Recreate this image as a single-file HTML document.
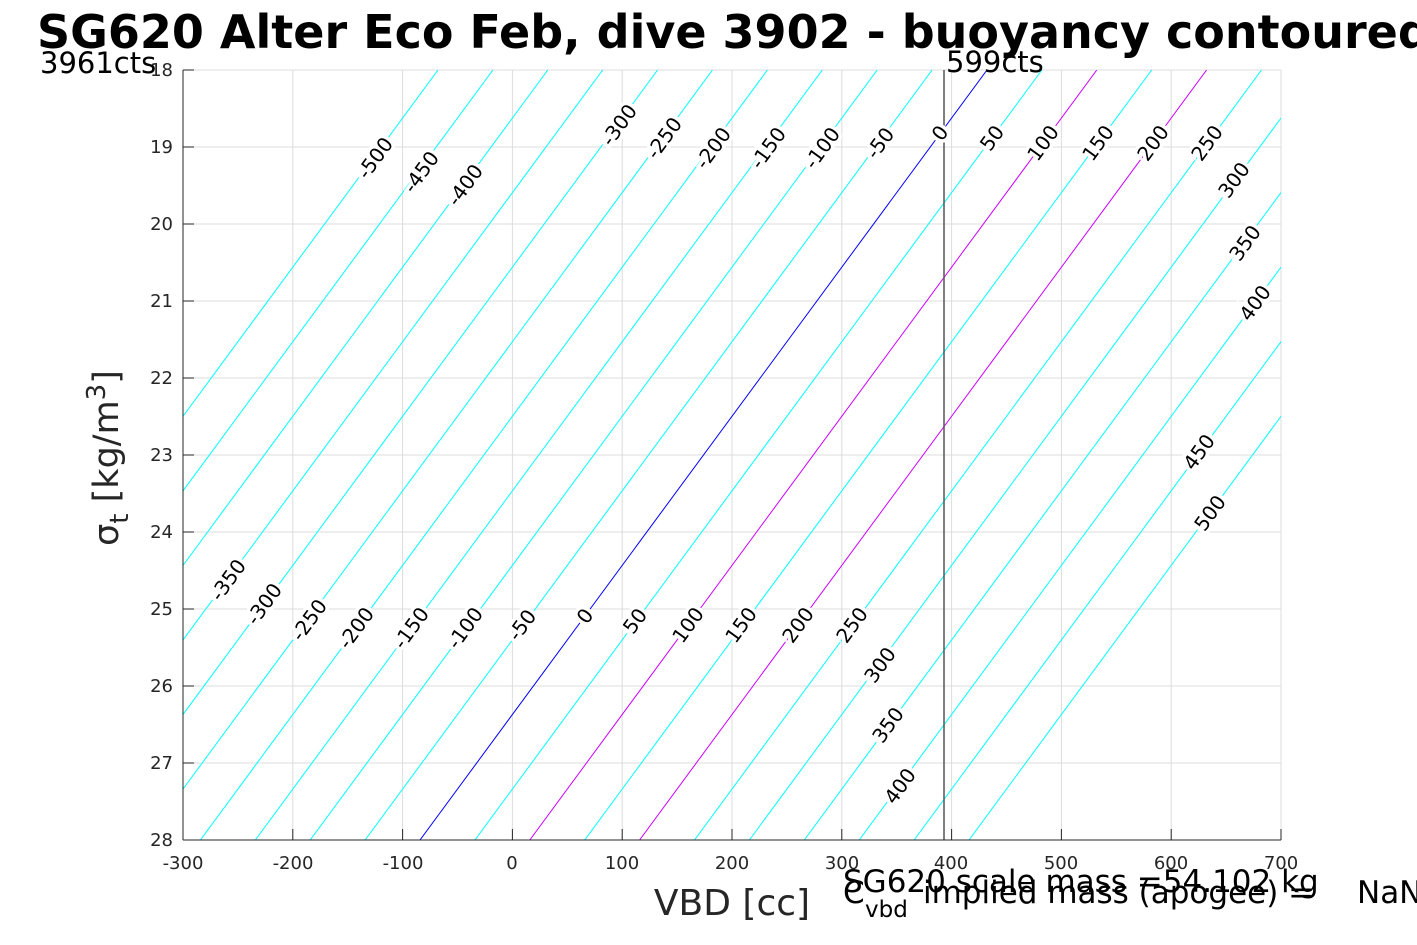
<!DOCTYPE html>
<html><head><meta charset="utf-8"><style>
body{margin:0;background:#fff;}
svg{display:block;font-family:"DejaVu Sans","Liberation Sans",sans-serif;}
.cl{font-size:20px;fill:#000;stroke:#fff;stroke-width:7px;paint-order:stroke;text-anchor:middle;dominant-baseline:central;}
.tk{font-size:18px;fill:#262626;}
</style></head><body>
<svg id="s" width="1417" height="945" viewBox="0 0 1417 945" xmlns="http://www.w3.org/2000/svg">
<defs><clipPath id="cp"><rect x="183" y="70" width="1098" height="770"/></clipPath></defs>
<g id="grid" stroke="#dcdcdc" stroke-width="1"></g>
<g id="lines" clip-path="url(#cp)" fill="none" stroke-width="1"></g>
<line x1="944" y1="70" x2="944" y2="840" stroke="#555" stroke-width="1.5"/>
<g id="labs"></g>
<line x1="183" y1="70" x2="183" y2="840" stroke="#262626"/>
<line x1="183" y1="840" x2="1281" y2="840" stroke="#262626"/>
<g id="ticks" stroke="#262626"></g>
<g class="tk" text-anchor="middle">
<text x="183" y="869">-300</text><text x="293" y="869">-200</text><text x="403" y="869">-100</text>
<text x="512" y="869">0</text><text x="622" y="869">100</text><text x="732" y="869">200</text>
<text x="842" y="869">300</text><text x="951" y="869">400</text><text x="1061" y="869">500</text>
<text x="1171" y="869">600</text><text x="1281" y="869">700</text>
</g>
<g class="tk" text-anchor="end">
<text x="173" y="76">18</text><text x="173" y="153">19</text><text x="173" y="230">20</text>
<text x="173" y="307">21</text><text x="173" y="384">22</text><text x="173" y="461">23</text>
<text x="173" y="538">24</text><text x="173" y="615">25</text><text x="173" y="692">26</text>
<text x="173" y="769">27</text><text x="173" y="846">28</text>
</g>
<text x="732" y="915" font-size="36" fill="#262626" text-anchor="middle">VBD [cc]</text>
<text transform="translate(118,458) rotate(-90)" font-size="35" fill="#262626" text-anchor="middle">σ<tspan font-size="26" dy="10">t</tspan><tspan dy="-10"> [kg/m</tspan><tspan font-size="26" dy="-13">3</tspan><tspan dy="13">]</tspan></text>
<text x="37" y="48" font-size="46" font-weight="bold" fill="#000">SG620 Alter Eco Feb, dive 3902 - buoyancy contoured</text>
<text x="40" y="73" font-size="29" fill="#000">3961cts</text>
<text x="946" y="72" font-size="29" fill="#000">599cts</text>
<text x="843" y="892" font-size="31" fill="#000">SG620 scale mass =54.102 kg</text>
<text x="843" y="903" font-size="31" fill="#000">C</text>
<text x="865" y="917" font-size="23" fill="#000">vbd</text>
<text x="923" y="903" font-size="31" fill="#000">implied mass (apogee) =</text>
<text x="1357" y="903" font-size="31" fill="#000">NaN</text>
</svg>
<script>
var NS="http://www.w3.org/2000/svg";
function el(p,t,a){var e=document.createElementNS(NS,t);for(var k in a)e.setAttribute(k,a[k]);document.getElementById(p).appendChild(e);return e;}
for(var i=0;i<=10;i++){var x=183+i*109.8;el("grid","line",{x1:x,y1:70,x2:x,y2:840});el("ticks","line",{x1:x,y1:840,x2:x,y2:829});
var y=70+i*77;el("grid","line",{x1:183,y1:y,x2:1281,y2:y});el("ticks","line",{x1:183,y1:y,x2:194,y2:y});}
for(var c=-500;c<=500;c+=50){var col=c==0?"#0000ff":(c==100||c==200)?"#cc00ff":"#00ffff";
el("lines","line",{x1:420+1.098*c,y1:840,x2:987+1.098*c,y2:70,stroke:col});}
var L=[["-500",375,158],["-450",421,172],["-400",465,185],["-300",619,125],["-250",664,138],["-200",713,148],["-150",768,148],["-100",822,148],["-50",880,143],["0",940,133],["50",992,138],["100",1043,143],["150",1098,143],["200",1153,143],["250",1207,143],["300",1234,180],["350",1245,243],["400",1255,303],["450",1199,452],["500",1210,513],
["-350",228,580],["-300",264,604],["-250",309,620],["-200",356,628],["-150",411,628],["-100",465,628],["-50",522,625],["0",585,616],["50",635,621],["100",688,625],["150",741,625],["200",798,625],["250",852,625],["300",880,665],["350",888,725],["400",900,786]];
L.forEach(function(l){var t=el("labs","text",{x:l[1],y:l[2],"class":"cl",transform:"rotate(-54 "+l[1]+" "+l[2]+")"});t.textContent=l[0];});
</script>
</body></html>
